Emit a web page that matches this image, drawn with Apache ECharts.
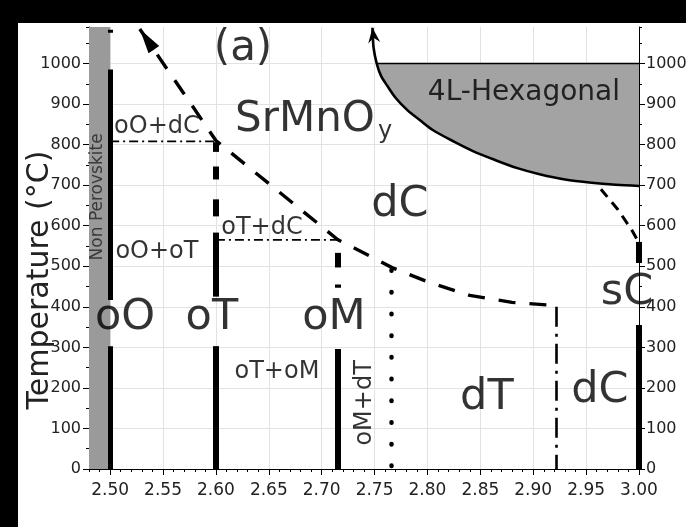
<!DOCTYPE html>
<html>
<head>
<meta charset="utf-8">
<script src="https://cdn.jsdelivr.net/npm/echarts@6/dist/echarts.min.js"></script>
<style>
  html, body { margin: 0; padding: 0; background: #fff; }
  #chart { width: 686px; height: 527px; }
</style>
</head>
<body>
<div id="chart"></div>
<script>
// ---- Phase diagram of SrMnO_y: oxygen content y vs temperature ----

// Axis ranges and tick labels
const X_MIN = 2.48, X_MAX = 3.00;
const T_MIN = 0, T_MAX = 1090;
const X_TICKS = [2.50, 2.55, 2.60, 2.65, 2.70, 2.75, 2.80, 2.85, 2.90, 2.95, 3.00];
const T_TICKS = [0, 100, 200, 300, 400, 500, 600, 700, 800, 900, 1000];
const T_TITLE = 'Temperature (\u00B0C)';

// Non-perovskite region (y below 2.50)
const NON_PEROVSKITE_Y = [2.48, 2.50];

// Line compounds: composition and the temperature spans of their bold segments
const OO_Y = 2.50;
const OO_SPANS = [[1083, 1076], [985, 417], [303, 0]];
const OT_Y = 2.60;
const OT_SPANS = [[806, 782], [746, 714], [665, 623], [583, 425], [303, 0]];
const OM_Y = 2.715;
const OM_SPANS = [[533, 497], [455, 447], [296, 0]];
const SC_Y = 3.00;
const SC_SPANS = [[560, 508], [355, 0]];

// Upper stability limit of the ordered phases (dashed)
const DC_BOUNDARY = [[2.528, 1085], [2.60, 810], [2.715, 566], [2.767, 496], [2.80, 462], [2.84, 428], [2.88, 411], [2.922, 403]];
// Isotherms of the two-phase fields (dash-dot)
const OO_DC_ISOTHERM = [[2.50, 808], [2.60, 808]];
const OT_DC_ISOTHERM = [[2.60, 565], [2.715, 565]];
// oM+dT | dT border (dotted)
const OM_DT_BORDER = [[2.766, 490], [2.766, 0]];
// dT | dC border (dash-dot)
const DT_DC_BORDER = [[2.922, 400], [2.922, 0]];
// 4L-hexagonal stability limit
const HEX_BOUNDARY = [[2.748, 1088], [2.749, 1040], [2.752, 1000], [2.756, 970], [2.762, 945], [2.770, 915], [2.781, 885],
  [2.793, 860], [2.805, 836], [2.826, 806], [2.843, 784], [2.864, 762], [2.885, 742], [2.906, 727], [2.930, 714],
  [2.955, 706], [2.978, 701], [3.00, 698]];
const HEX_TOP_T = 1000;
// Hexagonal -> sC path (dashed)
const HEX_SC_PATH = [[2.964, 690], [2.980, 640], [2.993, 590], [2.999, 562]];

// Text labels: [text, y, T]
const PHASE_LABELS = [['oO', 2.514, 372], ['oT', 2.5962, 372], ['oM', 2.7116, 372], ['dC', 2.774, 651], ['dT', 2.8562, 175], ['dC', 2.963, 192], ['sC', 2.9886, 434]];
const MIX_LABELS = [['oO+dC', 2.5442, 843], ['oO+oT', 2.5442, 535], ['oT+dC', 2.6435, 594], ['oT+oM', 2.6577, 239]];
const VERTICAL_MIX_LABELS = [['oM+dT', 2.741, 163]];
const REGION_LABELS = [['Non Perovskite', 2.4885, 671]];
const HEX_LABELS = [['4L-Hexagonal', 2.8912, 929]];
const FORMULA_LABELS = [['SrMnO', 2.6842, 861]];
const FORMULA_SUB = [['y', 2.760, 831]];
const PANEL_LABELS = [['(a)', 2.6256, 1036]];

const FONT = 'DejaVu Sans';
const INK = '#000';

const chart = echarts.init(document.getElementById('chart'), null, { renderer: 'canvas' });

function spanData(y, spans) {
  return spans.map(s => ({ coords: [[y, s[0]], [y, s[1]]] }));
}

function barSeries(y, spans, width) {
  return {
    type: 'lines', coordinateSystem: 'cartesian2d', xAxisIndex: 0, yAxisIndex: 0,
    polyline: false, silent: true, z: 5,
    lineStyle: { color: INK, width: width, opacity: 1, curveness: 0, cap: 'butt' },
    data: spanData(y, spans)
  };
}

function pathSeries(points, style, z, smooth) {
  return {
    type: 'line', xAxisIndex: 0, yAxisIndex: 0, data: points, showSymbol: false, symbol: 'none',
    silent: true, z: z || 4, clip: false, smooth: smooth || false,
    lineStyle: Object.assign({ color: INK, opacity: 1 }, style)
  };
}

function polygonSeries(points, fill, z) {
  return {
    type: 'custom', xAxisIndex: 0, yAxisIndex: 0, silent: true, z: z || 2, data: [[0]],
    renderItem: (params, api) => ({
      type: 'polygon',
      shape: { points: points.map(p => api.coord(p)) },
      style: { fill: fill }
    })
  };
}

// arrowhead at tip, oriented along (from -> tip)
function arrowSeries(tip, from, len, halfWidth, notch) {
  return {
    type: 'custom', xAxisIndex: 0, yAxisIndex: 0, silent: true, z: 6, clip: false,
    data: [[tip[0], tip[1], from[0], from[1]]],
    renderItem: (params, api) => {
      const t = api.coord([api.value(0), api.value(1)]);
      const f = api.coord([api.value(2), api.value(3)]);
      const dx = t[0] - f[0], dy = t[1] - f[1];
      const d = Math.hypot(dx, dy) || 1;
      const ux = dx / d, uy = dy / d, px = -uy, py = ux;
      const bx = t[0] - ux * len, by = t[1] - uy * len;
      const nx = t[0] - ux * (len - notch), ny = t[1] - uy * (len - notch);
      return {
        type: 'polygon',
        shape: { points: [t, [bx + px * halfWidth, by + py * halfWidth], [nx, ny], [bx - px * halfWidth, by - py * halfWidth]] },
        style: { fill: INK }
      };
    }
  };
}

function labelSeries(items, fontSize, extra) {
  return {
    type: 'scatter', xAxisIndex: 0, yAxisIndex: 0, silent: true, z: 10, clip: false,
    symbolSize: 1, itemStyle: { color: 'rgba(0,0,0,0)' },
    data: items.map(it => ({ name: it[0], value: [it[1], it[2]] })),
    label: Object.assign({
      show: true, position: 'inside', formatter: '{b}',
      fontFamily: FONT, fontSize: fontSize, color: '#000', align: 'center', verticalAlign: 'middle',
      textBorderWidth: 0
    }, extra || {})
  };
}

const hexFill = HEX_BOUNDARY.filter(p => p[1] <= HEX_TOP_T).concat([[X_MAX, HEX_TOP_T]]);
const nonPerovskiteRect = [[NON_PEROVSKITE_Y[0], T_MIN], [NON_PEROVSKITE_Y[1], T_MIN], [NON_PEROVSKITE_Y[1], T_MAX], [NON_PEROVSKITE_Y[0], T_MAX]];

const axisText = { fontFamily: FONT, fontSize: 16, color: '#222' };

const option = {
  animation: false,
  backgroundColor: '#fff',
  grid: { left: 89, right: 47, top: 27, bottom: 58, containLabel: false, outerBoundsMode: 'none' },
  xAxis: [
    {
      type: 'value', min: X_MIN, max: X_MAX, position: 'bottom',
      axisLine: { show: true, onZero: false, lineStyle: { color: INK, width: 1 } },
      axisTick: { show: true, customValues: X_TICKS, length: 6, lineStyle: { color: INK } },
      axisLabel: Object.assign({ customValues: X_TICKS, formatter: v => v.toFixed(2), margin: 13 }, axisText, { fontSize: 17 }),
      splitLine: { show: true, lineStyle: { color: '#e2e2e2', width: 1 } }
    },
    {
      type: 'value', min: X_MIN, max: X_MAX, interval: 0.01, position: 'bottom',
      axisLine: { show: false, onZero: false },
      axisTick: { show: true, length: 3, lineStyle: { color: INK } },
      axisLabel: { show: false }, splitLine: { show: false }
    }
  ],
  yAxis: [
    {
      type: 'value', min: T_MIN, max: T_MAX, position: 'left',
      axisLine: { show: true, onZero: false, lineStyle: { color: INK, width: 1 } },
      axisTick: { show: true, customValues: T_TICKS, length: 6, lineStyle: { color: INK } },
      axisLabel: Object.assign({ customValues: T_TICKS, margin: 8, formatter: v => String(v) }, axisText),
      splitLine: { show: true, lineStyle: { color: '#e2e2e2', width: 1 } }
    },
    {
      type: 'value', min: T_MIN, max: T_MAX, interval: 50, position: 'left',
      axisLine: { show: false, onZero: false },
      axisTick: { show: true, length: 3, lineStyle: { color: INK } },
      axisLabel: { show: false }, splitLine: { show: false }
    },
    {
      type: 'value', min: T_MIN, max: T_MAX, position: 'right',
      axisLine: { show: true, onZero: false, lineStyle: { color: INK, width: 1 } },
      axisTick: { show: true, customValues: T_TICKS, length: 6, lineStyle: { color: INK } },
      axisLabel: Object.assign({ customValues: T_TICKS, margin: 7, formatter: v => String(v) }, axisText),
      splitLine: { show: false }
    },
    {
      type: 'value', min: T_MIN, max: T_MAX, interval: 50, position: 'right',
      axisLine: { show: false, onZero: false },
      axisTick: { show: true, length: 3, lineStyle: { color: INK } },
      axisLabel: { show: false }, splitLine: { show: false }
    }
  ],
  series: [
    // shaded regions
    polygonSeries(nonPerovskiteRect, '#9a9a9a', 1),
    polygonSeries(hexFill, '#a3a3a3', 1),

    // phase borders
    pathSeries(HEX_BOUNDARY, { width: 2.6 }, 4, 0.3),
    pathSeries([[hexFill[0][0], HEX_TOP_T], [X_MAX, HEX_TOP_T]], { width: 1.5 }, 4),
    pathSeries(DC_BOUNDARY, { width: 3.4, type: [17, 14], cap: 'butt' }, 4),
    pathSeries(HEX_SC_PATH, { width: 3, type: [10, 7] }, 4),
    pathSeries(OO_DC_ISOTHERM, { width: 1.6, type: [9, 4, 2, 4] }, 4),
    pathSeries(OT_DC_ISOTHERM, { width: 1.6, type: [9, 4, 2, 4] }, 4),
    pathSeries(DT_DC_BORDER, { width: 2.6, type: [20, 7, 3, 7] }, 4),
    pathSeries(OM_DT_BORDER, { width: 4.5, type: [0.5, 21.2], cap: 'round' }, 4),

    // line compounds
    barSeries(OO_Y, OO_SPANS, 5),
    barSeries(OT_Y, OT_SPANS, 6),
    barSeries(OM_Y, OM_SPANS, 6),
    barSeries(SC_Y, SC_SPANS, 6),

    // arrowheads
    arrowSeries(DC_BOUNDARY[0], DC_BOUNDARY[1], 25, 6.5, 0),
    arrowSeries(HEX_BOUNDARY[0], HEX_BOUNDARY[2], 15, 6, 5),

    // text
    labelSeries(PHASE_LABELS, 43),
    labelSeries(MIX_LABELS, 24),
    labelSeries(VERTICAL_MIX_LABELS, 24, { rotate: 90 }),
    labelSeries(REGION_LABELS, 17, { rotate: 90, color: '#222' }),
    labelSeries(HEX_LABELS, 28),
    labelSeries(FORMULA_LABELS, 42),
    labelSeries(FORMULA_SUB, 24),
    labelSeries(PANEL_LABELS, 42)
  ],
  graphic: [
    { type: 'rect', left: 0, top: 0, z: 100, shape: { width: 686, height: 23 }, style: { fill: '#000' } },
    { type: 'rect', left: 0, top: 0, z: 100, shape: { width: 18, height: 527 }, style: { fill: '#000' } },
    {
      type: 'text', x: 40, y: 280, rotation: Math.PI / 2, z: 50,
      style: { text: T_TITLE, font: '30px "DejaVu Sans"', fill: '#222', align: 'center', verticalAlign: 'middle' }
    }
  ]
};

chart.setOption(option);
</script>
</body>
</html>
